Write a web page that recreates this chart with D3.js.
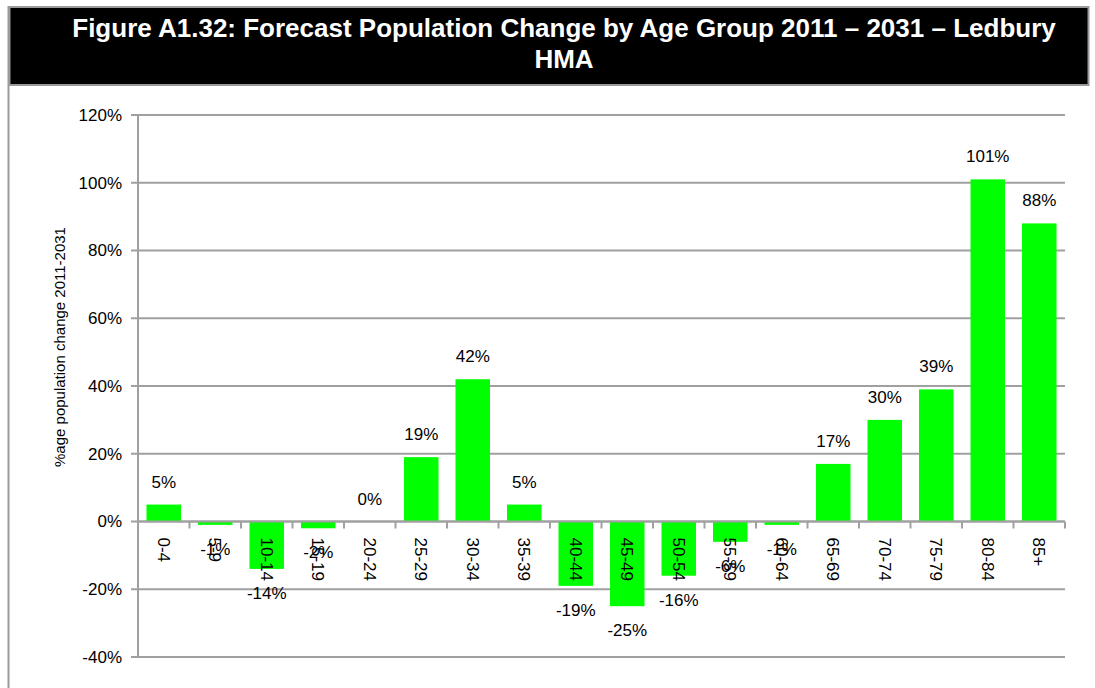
<!DOCTYPE html>
<html>
<head>
<meta charset="utf-8">
<script src="https://d3js.org/d3.v7.min.js"></script>
<style>
  body { margin: 0; background: #fff; }
  svg { display: block; overflow: visible; font-family: "Liberation Sans", Arial, sans-serif; }
</style>
</head>
<body>
<div id="chart"></div>
<script>
// data
var ageGroups = ["0-4", "5-9", "10-14", "15-19", "20-24", "25-29", "30-34", "35-39", "40-44",
  "45-49", "50-54", "55-59", "60-64", "65-69", "70-74", "75-79", "80-84", "85+"];
var changePct = [5, -1, -14, -2, 0, 19, 42, 5, -19, -25, -16, -6, -1, 17, 30, 39, 101, 88];
var yTicks = [-40, -20, 0, 20, 40, 60, 80, 100, 120];

var titleLines = ["Figure A1.32: Forecast Population Change by Age Group 2011 \u2013 2031 \u2013 Ledbury", "HMA"];
var yTitle = "%age population change 2011-2031";

var width = 1095, height = 688,
  margin = {top: 115, right: 30, bottom: 31, left: 138},
  innerWidth = 1065 - margin.left,
  innerHeight = 657 - margin.top;

var data = ageGroups.map(function(d, i) { return [d, changePct[i]]; });

var svg = d3.select("#chart").append("svg")
  .attr("width", width)
  .attr("height", height);

// frame + title box
svg.append("line")
  .attr("x1", 8.5).attr("x2", 8.5).attr("y1", 6).attr("y2", height)
  .attr("stroke", "#9a9a9a").attr("stroke-width", 2);
svg.append("rect")
  .attr("x", 9.5).attr("y", 7).attr("width", 1079).attr("height", 78)
  .attr("fill", "#000")
  .attr("stroke", "#9a9a9a").attr("stroke-width", 2);

svg.selectAll(".title")
  .data(titleLines)
  .enter().append("text")
    .attr("class", "title")
    .attr("x", 564)
    .attr("y", function(d, i) { return 37 + i * 31; })
    .attr("text-anchor", "middle")
    .attr("fill", "#fff")
    .attr("font-weight", "bold")
    .attr("font-size", "26px")
    .text(function(d) { return d; });

var g = svg.append("g")
  .attr("transform", "translate(" + margin.left + "," + margin.top + ")");

var xScale = d3.scaleBand()
  .domain(ageGroups)
  .range([0, innerWidth])
  .paddingInner(0.33)
  .paddingOuter(0.165);

var yScale = d3.scaleLinear()
  .domain([-40, 120])
  .range([innerHeight, 0]);

// gridlines
g.selectAll(".grid")
  .data(yTicks)
  .enter().append("line")
    .attr("class", "grid")
    .attr("x1", -7)
    .attr("x2", innerWidth)
    .attr("y1", function(d) { return yScale(d); })
    .attr("y2", function(d) { return yScale(d); })
    .attr("stroke", "#a0a0a0")
    .attr("stroke-width", 2);

// y axis
var yAxis = g.append("g")
  .attr("class", "y axis")
  .call(d3.axisLeft(yScale).tickValues(yTicks).tickSize(0).tickPadding(16)
    .tickFormat(function(d) { return d + "%"; }));
yAxis.select(".domain").remove();
yAxis.selectAll("text")
  .attr("font-size", "17px")
  .attr("fill", "#000")
  .attr("font-family", "'Liberation Sans', Arial, sans-serif");

g.append("line")
  .attr("x1", 0).attr("x2", 0)
  .attr("y1", 0).attr("y2", innerHeight)
  .attr("stroke", "#a0a0a0").attr("stroke-width", 2);

g.append("text")
  .attr("transform", "translate(" + (65 - margin.left) + "," + (347 - margin.top) + "), rotate(-90)")
  .attr("text-anchor", "middle")
  .attr("font-size", "15px")
  .attr("fill", "#000")
  .text(yTitle);

// bars
g.selectAll(".bar")
  .data(data)
  .enter().append("rect")
    .attr("class", "bar")
    .attr("x", function(d) { return xScale(d[0]); })
    .attr("y", function(d) { return yScale(Math.max(0, d[1])); })
    .attr("width", xScale.bandwidth())
    .attr("height", function(d) { return Math.abs(yScale(d[1]) - yScale(0)); })
    .attr("fill", "#00ff00");

// x axis on the zero line
var step = xScale.step();
var xAxis = g.append("g")
  .attr("class", "x axis")
  .attr("transform", "translate(0," + yScale(0) + ")");
xAxis.append("line")
  .attr("x1", 0).attr("x2", innerWidth)
  .attr("stroke", "#a0a0a0").attr("stroke-width", 2);
xAxis.selectAll(".xtick")
  .data(d3.range(ageGroups.length + 1))
  .enter().append("line")
    .attr("class", "xtick")
    .attr("x1", function(i) { return i * step; })
    .attr("x2", function(i) { return i * step; })
    .attr("y1", 0).attr("y2", 7)
    .attr("stroke", "#a0a0a0").attr("stroke-width", 2);
xAxis.selectAll(".xlabel")
  .data(ageGroups)
  .enter().append("text")
    .attr("class", "xlabel")
    .attr("transform", function(d) {
      return "translate(" + (xScale(d) + xScale.bandwidth() / 2) + ",16) rotate(90)";
    })
    .attr("dy", "0.35em")
    .attr("text-anchor", "start")
    .attr("font-size", "17px")
    .attr("fill", "#000")
    .text(function(d) { return d; });

// data labels
g.selectAll(".label")
  .data(data)
  .enter().append("text")
    .attr("class", "label")
    .attr("x", function(d) { return xScale(d[0]) + xScale.bandwidth() / 2; })
    .attr("y", function(d) { return d[1] < 0 ? yScale(d[1]) + 30 : yScale(d[1]) - 17; })
    .attr("text-anchor", "middle")
    .attr("font-size", "17px")
    .attr("fill", "#000")
    .text(function(d) { return d[1] + "%"; });
</script>
</body>
</html>
